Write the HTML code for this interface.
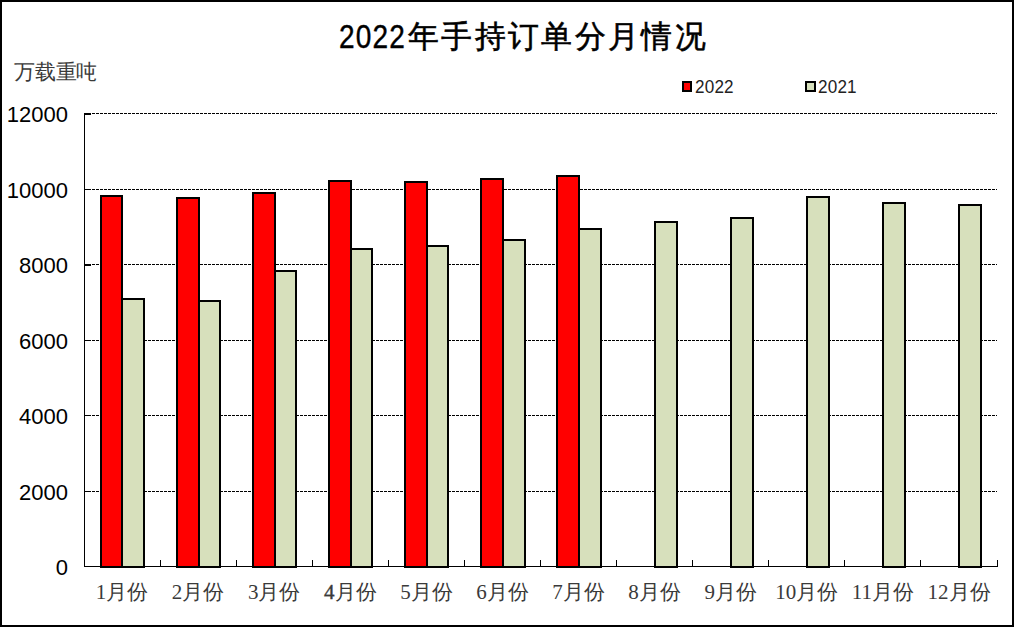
<!DOCTYPE html>
<html><head><meta charset="utf-8"><style>
html,body{margin:0;padding:0;background:#fff;}
#c{position:relative;width:1014px;height:627px;overflow:hidden;}
#c svg{position:absolute;left:0;top:0;}
.t{position:absolute;white-space:nowrap;line-height:1;color:#000;}
.s{font-family:"Liberation Sans",sans-serif;}
.r{font-family:"Liberation Serif",serif;}
.xl,#unit{color:#3a3a3a;} .leg{color:#222;}
#frame{position:absolute;left:0;top:0;width:1010px;height:623px;border:2px solid #000;}
</style></head><body><div id="c">
<svg width="1014" height="627" viewBox="0 0 1014 627" shape-rendering="crispEdges"><rect x="0" y="0" width="1014" height="627" fill="#fff"/><line x1="84" y1="113.5" x2="997" y2="113.5" stroke="#000" stroke-width="1" stroke-dasharray="3 1"/><line x1="84" y1="189.5" x2="997" y2="189.5" stroke="#000" stroke-width="1" stroke-dasharray="3 1"/><line x1="84" y1="264.5" x2="997" y2="264.5" stroke="#000" stroke-width="1" stroke-dasharray="3 1"/><line x1="84" y1="340.5" x2="997" y2="340.5" stroke="#000" stroke-width="1" stroke-dasharray="3 1"/><line x1="84" y1="415.5" x2="997" y2="415.5" stroke="#000" stroke-width="1" stroke-dasharray="3 1"/><line x1="84" y1="491.5" x2="997" y2="491.5" stroke="#000" stroke-width="1" stroke-dasharray="3 1"/><rect x="84" y="113" width="7" height="2" fill="#000"/><rect x="84" y="189" width="7" height="1" fill="#000"/><rect x="84" y="264" width="7" height="2" fill="#000"/><rect x="84" y="340" width="7" height="1" fill="#000"/><rect x="84" y="415" width="7" height="1" fill="#000"/><rect x="84" y="491" width="7" height="1" fill="#000"/><rect x="121" y="298" width="24" height="270" fill="#000"/><rect x="123" y="300" width="20" height="266" fill="#D7E0BC"/><rect x="198" y="300" width="23" height="268" fill="#000"/><rect x="200" y="302" width="19" height="264" fill="#D7E0BC"/><rect x="274" y="270" width="23" height="298" fill="#000"/><rect x="276" y="272" width="19" height="294" fill="#D7E0BC"/><rect x="350" y="248" width="23" height="320" fill="#000"/><rect x="352" y="250" width="19" height="316" fill="#D7E0BC"/><rect x="426" y="245" width="23" height="323" fill="#000"/><rect x="428" y="247" width="19" height="319" fill="#D7E0BC"/><rect x="502" y="239" width="24" height="329" fill="#000"/><rect x="504" y="241" width="20" height="325" fill="#D7E0BC"/><rect x="578" y="228" width="24" height="340" fill="#000"/><rect x="580" y="230" width="20" height="336" fill="#D7E0BC"/><rect x="654" y="221" width="24" height="347" fill="#000"/><rect x="656" y="223" width="20" height="343" fill="#D7E0BC"/><rect x="730" y="217" width="24" height="351" fill="#000"/><rect x="732" y="219" width="20" height="347" fill="#D7E0BC"/><rect x="806" y="196" width="24" height="372" fill="#000"/><rect x="808" y="198" width="20" height="368" fill="#D7E0BC"/><rect x="882" y="202" width="24" height="366" fill="#000"/><rect x="884" y="204" width="20" height="362" fill="#D7E0BC"/><rect x="958" y="204" width="24" height="364" fill="#000"/><rect x="960" y="206" width="20" height="360" fill="#D7E0BC"/><rect x="100" y="195" width="23" height="373" fill="#000"/><rect x="102" y="197" width="19" height="369" fill="#FF0000"/><rect x="176" y="197" width="24" height="371" fill="#000"/><rect x="178" y="199" width="20" height="367" fill="#FF0000"/><rect x="252" y="192" width="24" height="376" fill="#000"/><rect x="254" y="194" width="20" height="372" fill="#FF0000"/><rect x="328" y="180" width="24" height="388" fill="#000"/><rect x="330" y="182" width="20" height="384" fill="#FF0000"/><rect x="404" y="181" width="24" height="387" fill="#000"/><rect x="406" y="183" width="20" height="383" fill="#FF0000"/><rect x="480" y="178" width="24" height="390" fill="#000"/><rect x="482" y="180" width="20" height="386" fill="#FF0000"/><rect x="556" y="175" width="24" height="393" fill="#000"/><rect x="558" y="177" width="20" height="389" fill="#FF0000"/><rect x="84" y="113" width="1" height="454" fill="#000"/><rect x="84" y="566" width="914" height="1" fill="#000"/><rect x="160" y="560" width="1" height="6" fill="#000"/><rect x="236" y="560" width="1" height="6" fill="#000"/><rect x="312" y="560" width="1" height="6" fill="#000"/><rect x="388" y="560" width="1" height="6" fill="#000"/><rect x="464" y="560" width="1" height="6" fill="#000"/><rect x="540" y="560" width="1" height="6" fill="#000"/><rect x="616" y="560" width="1" height="6" fill="#000"/><rect x="692" y="560" width="1" height="6" fill="#000"/><rect x="768" y="560" width="1" height="6" fill="#000"/><rect x="844" y="560" width="1" height="6" fill="#000"/><rect x="920" y="560" width="1" height="6" fill="#000"/><rect x="997" y="560" width="1" height="6" fill="#000"/></svg>
<div class="t s" id="tnum" style="left:339px;top:20px;font-size:33px;letter-spacing:1.4px;transform:scaleX(0.85);transform-origin:0 0;-webkit-text-stroke:0.4px #000;">2022</div>
<div class="t s" id="tcjk" style="left:408px;top:21px;font-size:32px;letter-spacing:3.1px;transform:scale(0.95,0.955);transform-origin:0 0;-webkit-text-stroke:0.6px #000;">年手持订单分月情况</div>
<div class="t r" id="unit" style="left:14px;top:62px;font-size:21px;letter-spacing:-0.2px;">万载重吨</div>
<div class="t s yl" style="right:946px;top:104px;font-size:22px;">12000</div>
<div class="t s yl" style="right:946px;top:180px;font-size:22px;">10000</div>
<div class="t s yl" style="right:946px;top:255px;font-size:22px;">8000</div>
<div class="t s yl" style="right:946px;top:331px;font-size:22px;">6000</div>
<div class="t s yl" style="right:946px;top:406px;font-size:22px;">4000</div>
<div class="t s yl" style="right:946px;top:482px;font-size:22px;">2000</div>
<div class="t s yl" style="right:946px;top:557px;font-size:22px;">0</div>
<div style="position:absolute;left:682px;top:81px;width:6px;height:7px;border:2px solid #000;background:#FF0000"></div>
<div class="t s leg" style="left:694.5px;top:78px;font-size:18px;transform:scaleX(0.95);transform-origin:0 0;letter-spacing:0.2px;">2022</div>
<div style="position:absolute;left:805px;top:81px;width:7px;height:7px;border:2px solid #000;background:#D7E0BC"></div>
<div class="t s leg" style="left:817.5px;top:78px;font-size:18px;transform:scaleX(0.95);transform-origin:0 0;letter-spacing:0.2px;">2021</div>
<div class="t r xl" style="left:62.0px;width:120px;text-align:center;top:582px;font-size:21px;">1月份</div>
<div class="t r xl" style="left:138.1px;width:120px;text-align:center;top:582px;font-size:21px;">2月份</div>
<div class="t r xl" style="left:214.2px;width:120px;text-align:center;top:582px;font-size:21px;">3月份</div>
<div class="t r xl" style="left:290.3px;width:120px;text-align:center;top:582px;font-size:21px;"><span style="-webkit-text-stroke:0.4px #3a3a3a">4</span>月份</div>
<div class="t r xl" style="left:366.4px;width:120px;text-align:center;top:582px;font-size:21px;">5月份</div>
<div class="t r xl" style="left:442.5px;width:120px;text-align:center;top:582px;font-size:21px;">6月份</div>
<div class="t r xl" style="left:518.5px;width:120px;text-align:center;top:582px;font-size:21px;">7月份</div>
<div class="t r xl" style="left:594.6px;width:120px;text-align:center;top:582px;font-size:21px;">8月份</div>
<div class="t r xl" style="left:670.7px;width:120px;text-align:center;top:582px;font-size:21px;">9月份</div>
<div class="t r xl" style="left:746.8px;width:120px;text-align:center;top:582px;font-size:21px;">10月份</div>
<div class="t r xl" style="left:822.9px;width:120px;text-align:center;top:582px;font-size:21px;">11月份</div>
<div class="t r xl" style="left:899.0px;width:120px;text-align:center;top:582px;font-size:21px;">12月份</div>
<div id="frame"></div>
</div></body></html>
